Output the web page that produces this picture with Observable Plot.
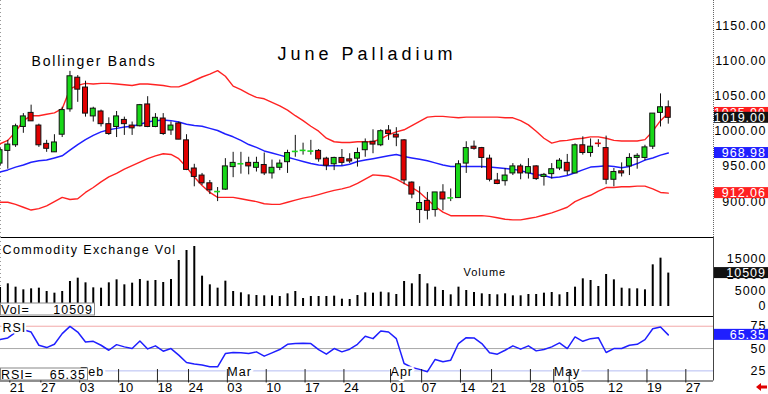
<!DOCTYPE html>
<html><head><meta charset="utf-8">
<script src="https://cdn.jsdelivr.net/npm/d3@7"></script>
<script src="https://cdn.jsdelivr.net/npm/@observablehq/plot@0.6"></script>
<style>
body{margin:0;background:#fff;}
#chart{position:relative;width:768px;height:394px;overflow:hidden;background:#fff;}
#chart svg{position:absolute;left:0;}
#chart text{letter-spacing:1px;}
</style></head><body><div id="chart"></div>
<script>
// ---- data (trading-day index: -1 = Jan 17 2025, 0 = Jan 21 2025, ... 85 = May 22 2025)
const dayIndex = d3.range(-1, 86);
const opens = [954,
 972,980,1006,1026,1008,982,970,995,1031,1076,
 1062,1021,1028,1010,1006,1016,1008,1007,1038,1006,
 1018,1001,1011,987,947,937,926,914,917,949,
 953.5,955,948,952,940,948,956,971,972.5,971.5,
 972,961,953,962,960,961,973,985,980,1001,
 995,987,927,888,901,888,913,905,905,954,
 978,976,961,930,929,940,950,940,950,935,
 939,947,955,940,980,969,983,976,931,943,
 950,962,962,978,1026,1034];
const highs = [977,
 987,1010,1025,1037,1010,987,995,1034,1085,1079,
 1071,1034,1030,1019,1028,1020,1013,1038,1049,1025,
 1025,1013,1013,995,953,940,930,920,961,970,
 970,963,963,969,959,959,973,994,983,987,
 974,963,963,974,968,976,989,1002,1002,1008,
 1005,988,928,921,913,913,924,918,958,985,
 986,977,966,940,947,954,953,961,951,940,
 954,961,967,982,992,989,988,993,947,955,
 968,968,980,1025,1053,1043];
const lows = [950,
 946,977,997,1014,977,970,970,991,1027,1041,
 1020,1013,1006,994,991,994,994,1006,1005,1005,
 994,994,988,944,921,923,910,900,916,934,
 939,938,942,937,932,944,940,963,966,966,
 956,944,944,951,954,949,963,968,978,987,
 978,924,904,869,874,878,887,900,905,940,
 973,947,928,924,922,937,931,932,930,922,
 932,944,937,940,966,963,977,924,921,935,
 937,946,958,974,1006,1010];
const closes = [973,
 981,1007,1021,1014,980,975,984,1030,1078,1059,
 1025,1032,1010,996,1021,1010,1004,1037,1006,1019,
 996,1008,988,945,935,926,916,914.5,950,955,
 954,950,955,940,948,954,969,971.5,973,972,
 960,951,962,955,957,969,984,981,1000,996,
 991,930,910,898,887,913,903,905.5,953,976,
 975,962,931,925,937,950,940,949,932,938,
 946,958,943,980,969,978,982.5,931,942,940,
 962,965,977,1025,1034,1019];
const upperBand = [982,
 987,999,1015,1022,1022,1024,1026,1032,1060,1065,
 1068,1067,1068,1068,1067,1066,1065,1067,1067,1066,
 1065,1063,1063,1067,1072,1077,1081,1086,1078,1064,
 1059,1053,1048,1046,1041,1036,1030,1022,1015,1007,
 1000,990,985,984,984,985,985,985,989,995,
 999,1002,1008,1014,1020,1021,1021,1020,1019,1020,
 1020,1020,1020,1020,1019,1019,1015,1009,1000,990,
 983,986,987,989,990,992,992,990,987,986,
 986,986,988,1000,1015,1025.9];
const middleBand = [942,
 945,949,952,956,958,959,962,965,973,981,
 988,994,999,1002,1004,1006,1007,1010,1013,1015,
 1016,1015,1013,1010,1008,1007,1004,1001,996,992,
 987,981,977,972,969,966,963,960,957,954,
 952,951,951,951,953,957,959,961,963,965,
 967,964,962,960,958,955,952,950,950,950,
 950,950,949,948,947,946,944,941,938,937,
 934,935,937,941,945,949,950,951,950,948,
 950,954,959,962,966,968.98];
const lowerBand = [899,
 899,896,892,888,890,894,900,906,903,904,
 913,920,928,935,940,946,951,956,961,965,
 968,967,961,949,935,923,913,906,906,906,
 904,902,900,897,896,896,899,902,905,907,
 910,913,916,918,921,926,932,938,937,936,
 932,926,920,913,903,893,885,880,880,880,
 880,880,879,877,875,874,874,876,878,881,
 884,888,892,900,905,909,915,920,920,921,
 921,922,922,918,913,912.06];
const volumes = [6000,
 7128,6080,5241,5556,5765,4717,4193,4717,7862,8910,
 7442,5870,5765,7442,8386,6813,7338,8491,7966,8176,
 7547,8491,14465,17610,18868,9539,6813,5765,7966,4717,
 4298,3669,3459,3354,3354,3145,3983,4717,2516,3145,
 3145,3145,3250,2306,2201,3459,4298,4193,4507,4298,
 3774,7862,7128,10063,7128,6080,5031,3669,6080,5031,
 4403,3983,3774,3669,3983,3354,3354,3774,3774,4193,
 4403,3669,4403,6080,8700,8176,6289,10063,8386,5765,
 5556,5556,5241,13103,15199,10509];
const rsiValues = [60,
 61.9,68,71,68.5,53.7,51.1,54.8,66.7,74.8,68.5,
 57.4,58.1,53.7,48.1,54.4,51.9,50,58.5,49.6,53,
 47,50,42.6,34.4,32.6,31.5,29.6,29.6,44.4,45.6,
 45.2,44.4,46.3,41.5,45.2,48.9,54.8,55.6,55.9,55.6,
 48.9,43.7,50,46.3,49.3,54.8,63.7,61.1,69.6,68.5,
 61.1,33.3,28.9,26.7,24.1,37.8,35.2,37,55.6,62.2,
 61.9,55.6,45.2,43.7,48.1,53,49.3,53,47.4,48.9,
 51.9,56.3,50,63,58.1,61.1,62.2,45.6,50,50,
 53.7,54.8,60,72.2,74.1,65.35];
// date axis
const dateTickIdx = [0,4,9,14,19,23,28,33,38,43,49,53,58,62,67,70,72,77,82,87];
const dateTickLabels = ["21","27","03","10","18","24","03","10","17","24","01","07","14","21","28","01","05","12","19","27"];
const monthIdx = [9,28,49,70];
const monthNames = ["Feb","Mar","Apr","May"];
const priceTicks = [900,950,1000,1050,1100,1150];
const volTicks = [0,5000,10000,15000];
const rsiTicks = [25,50,75];
const lastUpper = 1025.90, lastMiddle = 968.98, lastLower = 912.06, lastClose = 1019.00;
const lastVolume = 10509, lastRsi = 65.35;

// ---- build
const FONT = "'Liberation Sans', Arial, Helvetica, sans-serif";
const W = 768, MR = 55;
const xDomain = [-0.94, 90.82];
const GREEN = "#18d818", RED = "#e00000", BAND_RED = "#ff2323", BAND_BLUE = "#1f1fff";

const rows = dayIndex.map((d,k) => ({i:d, o:opens[k], h:highs[k], l:lows[k], c:closes[k],
  up:upperBand[k], mid:middleBand[k], lo:lowerBand[k], v:volumes[k], r:rsiValues[k]}));
const bodies = rows.filter(r => Math.abs(r.c - r.o) >= 1.5);
const dojis = rows.filter(r => Math.abs(r.c - r.o) < 1.5);
const col = r => r.c >= r.o ? GREEN : RED;
const tickLabelMap = new Map(dateTickIdx.map((d,k) => [d, dateTickLabels[k]]));
const months = monthIdx.map((d,k) => ({i:d, m:monthNames[k]}));

const baseStyle = {fontFamily: FONT, fontSize: "12.5px", background: "transparent", color: "black"};

const mainPlot = Plot.plot({
  width: W, height: 237, marginLeft: 0, marginRight: MR, marginTop: 0, marginBottom: 0,
  x: {domain: xDomain, axis: null},
  y: {domain: [849, 1185.65], axis: null},
  style: baseStyle,
  marks: [
    Plot.ruleX([xDomain[0]], {stroke: "#999", strokeDasharray: "1,3"}),
    Plot.ruleX([xDomain[1]], {stroke: "#666", strokeDasharray: "1,1"}),
    Plot.axisY({anchor: "right", label: null, ticks: priceTicks, tickFormat: d => d.toFixed(2), tickSize: 0, tickPadding: 0, textAnchor: "end", dx: 53}),
    Plot.line(rows, {x: "i", y: "up", stroke: BAND_RED, strokeWidth: 1.4}),
    Plot.line(rows, {x: "i", y: "lo", stroke: BAND_RED, strokeWidth: 1.4}),
    Plot.line(rows, {x: "i", y: "mid", stroke: BAND_BLUE, strokeWidth: 1.5}),
    Plot.ruleX(rows, {x: "i", y1: "l", y2: "h", stroke: "#111", strokeWidth: 1}),
    Plot.rect(bodies, {x1: d => d.i - 0.32, x2: d => d.i + 0.32, y1: "o", y2: "c", fill: col, stroke: "#111", strokeWidth: 1}),
    Plot.ruleY(dojis, {y: d => (d.o + d.c) / 2, x1: d => d.i - 0.38, x2: d => d.i + 0.38, stroke: col, strokeWidth: 1.6}),
    Plot.text(["June Palladium"], {frameAnchor: "top", dx: 10, dy: 47, fontSize: 18}),
    Plot.text(["Bollinger Bands"], {frameAnchor: "top-left", textAnchor: "start", dx: 31, dy: 56, fontSize: 14})
  ]
});

const volPlot = Plot.plot({
  width: W, height: 79, marginLeft: 0, marginRight: MR, marginTop: 0, marginBottom: 0,
  x: {domain: xDomain, axis: null},
  y: {domain: [-3145, 21698], axis: null},
  style: baseStyle,
  marks: [
    Plot.ruleY([21698], {stroke: "black", strokeWidth: 1.2}),
    Plot.ruleX([xDomain[0]], {stroke: "#999", strokeDasharray: "1,3"}),
    Plot.ruleX([xDomain[1]], {stroke: "#444"}),
    Plot.axisY({anchor: "right", label: null, ticks: volTicks, tickFormat: d => String(d), tickSize: 0, tickPadding: 0, textAnchor: "end", dx: 53}),
    Plot.ruleX(rows, {x: "i", y1: 0, y2: "v", stroke: "black", strokeWidth: 2}),
    Plot.text(["Commodity Exchange Vol"], {frameAnchor: "top-left", textAnchor: "start", dx: 2, dy: 8, fontSize: 12.5}),
    Plot.text(["Volume"], {frameAnchor: "top-left", textAnchor: "start", dx: 463, dy: 31, fontSize: 11})
  ]
});

const rsiPlot = Plot.plot({
  width: W, height: 78, marginLeft: 0, marginRight: MR, marginTop: 0, marginBottom: 13.5,
  x: {domain: xDomain, axis: null},
  y: {domain: [13.67, 85.9], axis: null},
  style: baseStyle,
  marks: [
    Plot.ruleY([85.9], {stroke: "black", strokeWidth: 1.2}),
    Plot.ruleY([75], {stroke: "#f2a8a8"}),
    Plot.ruleY([50], {stroke: "#a8a8a8"}),
    Plot.ruleY([25], {stroke: "#b4bcf2"}),
    Plot.ruleY([13.67], {stroke: "#222"}),
    Plot.ruleX([xDomain[1]], {stroke: "#444"}),
    Plot.axisY({anchor: "right", label: null, ticks: rsiTicks, tickFormat: d => String(d), tickSize: 0, tickPadding: 0, textAnchor: "end", dx: 53}),
    Plot.line(rows, {x: "i", y: "r", stroke: BAND_BLUE, strokeWidth: 1.5}),
    Plot.text(["RSI"], {frameAnchor: "top-left", textAnchor: "start", dx: 2, dy: 7, fontSize: 12.5, stroke: "white", strokeWidth: 4, paintOrder: "stroke", fill: "black"}),
    Plot.text(months, {x: "i", text: "m", frameAnchor: "bottom", textAnchor: "start", dx: 2, dy: -5.5, fontSize: 12.5, fill: "black", stroke: "white", strokeWidth: 5, paintOrder: "stroke"}),
    Plot.axisX({anchor: "bottom", label: null, ticks: dateTickIdx, tickFormat: d => tickLabelMap.get(d), tickSize: 13.5, tickPadding: 0, textAnchor: "start", dx: 2, dy: -11.5, fontSize: 13, stroke: "#222"})
  ]
});

const chart = document.getElementById("chart");
[[mainPlot, 0], [volPlot, 237], [rsiPlot, 316]].forEach(([p, top]) => {
  p.style.top = top + "px";
  chart.appendChild(p);
});

function spacing(svg, txt, ls) {
  d3.select(svg).selectAll("text").filter(function(){ return this.textContent === txt; }).style("letter-spacing", ls);
}
spacing(mainPlot, "June Palladium", "4px");
spacing(mainPlot, "Bollinger Bands", "1.8px");
spacing(volPlot, "Commodity Exchange Vol", "1.4px");
dateTickLabels.forEach(t => spacing(rsiPlot, t, "0.3px"));

function tag(svg, scaleY, value, text, bg) {
  const y = scaleY.apply(value);
  const g = d3.select(svg).append("g");
  g.append("rect").attr("x", 714).attr("y", y - 5.5).attr("width", 54).attr("height", 11).attr("fill", bg);
  g.append("text").attr("x", 766).attr("y", y + 4.5).attr("text-anchor", "end").attr("fill", "white")
    .style("font-size", "12.5px").style("letter-spacing", "1px").text(text);
}
const yMain = mainPlot.scale("y");
tag(mainPlot, yMain, lastUpper, lastUpper.toFixed(2), "#ff2020");
tag(mainPlot, yMain, lastClose, lastClose.toFixed(2), "#111");
tag(mainPlot, yMain, lastMiddle, lastMiddle.toFixed(2), "#1f1fff");
tag(mainPlot, yMain, lastLower, lastLower.toFixed(2), "#ff2020");
tag(volPlot, volPlot.scale("y"), lastVolume, String(lastVolume), "#111");
tag(rsiPlot, rsiPlot.scale("y"), lastRsi, lastRsi.toFixed(2), "#1f1fff");

function infoBox(svg, y, w, label, value) {
  const g = d3.select(svg).append("g");
  g.append("rect").attr("x", 0.5).attr("y", y).attr("width", w).attr("height", 12).attr("fill", "white").attr("stroke", "#888");
  g.append("text").attr("x", 1).attr("y", y + 10.5).attr("text-anchor", "start").style("font-size", "12.5px").text(label);
  g.append("text").attr("x", w - 1).attr("y", y + 10.5).attr("text-anchor", "end").style("font-size", "12.5px").text(value);
}
infoBox(volPlot, 66, 94, "Vol=", String(lastVolume));
infoBox(rsiPlot, 52, 87, "RSI=", lastRsi.toFixed(2));

// small red arrow bottom-right
d3.select(rsiPlot).append("path").attr("d", "M756,71 L761,67 L761,69.5 L767,69.5 L767,72.5 L761,72.5 L761,75 Z").attr("fill", "#e00000");
</script>
</body></html>
